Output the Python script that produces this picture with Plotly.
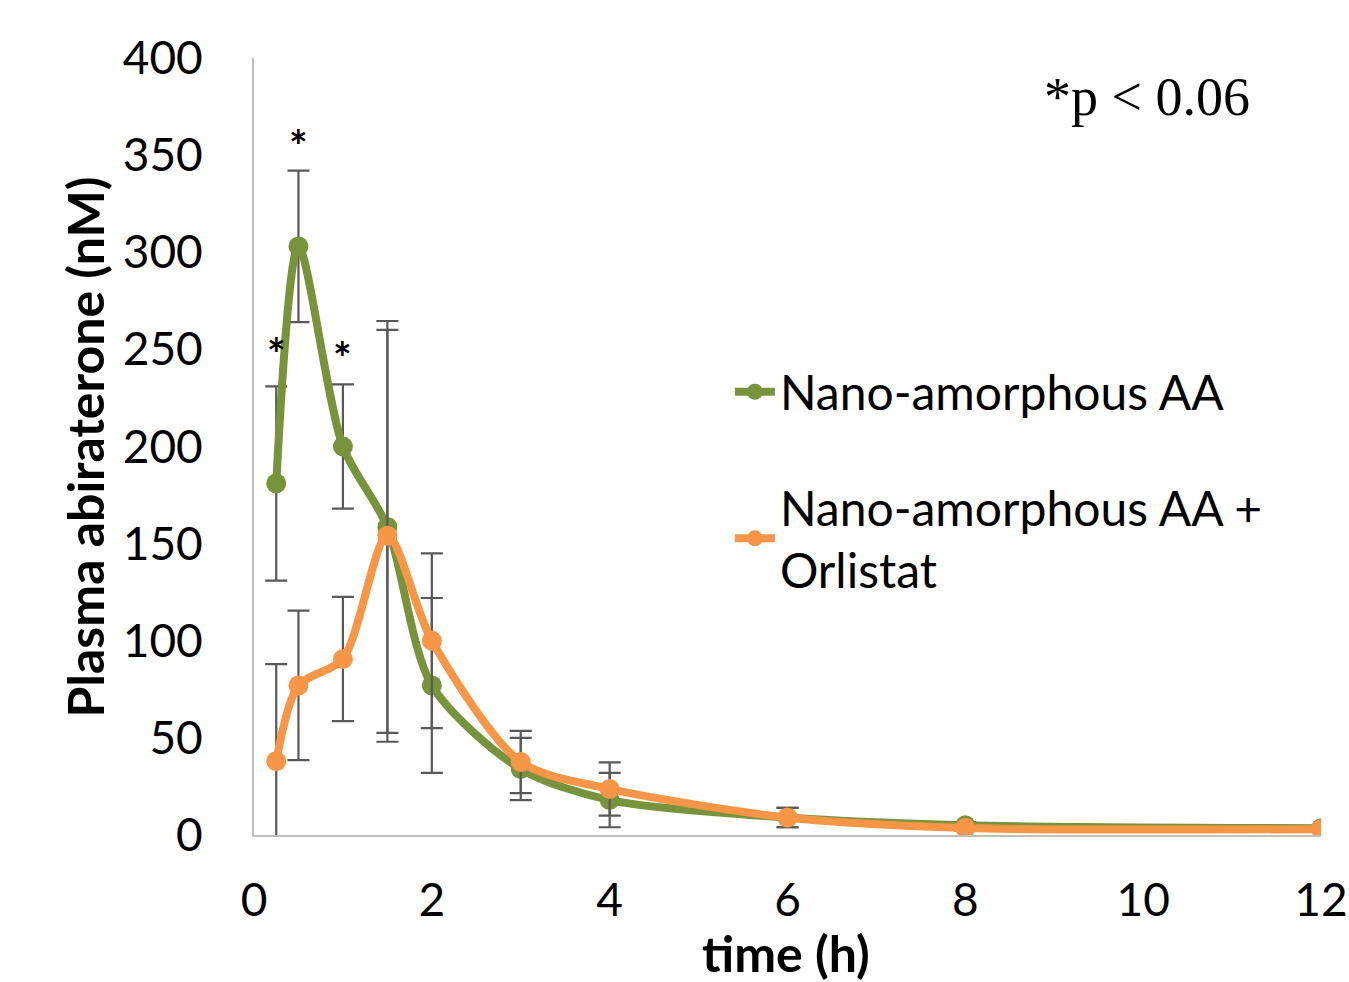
import plotly.graph_objects as go

# Sampling times (h)
time_h = [0.25, 0.5, 1, 1.5, 2, 3, 4, 6, 8, 12]

# Plasma abiraterone (nM), mean and SD
nano_mean = [181, 303, 200, 158.6, 77, 34, 18, 9, 5, 3.5]
nano_sd = [50, 39, 32, 106, 45, 16, 14, 5, 1.5, 1]

orlistat_mean = [38, 77, 90.6, 154, 100, 37.6, 23.7, 9, 3.6, 3]
orlistat_sd = [50, 38.5, 32, 106, 45, 16, 13.7, 5, 1.5, 1]

# Significance markers (time, height)
star_x = [0.25, 0.5, 1]
star_y = [248, 355, 246]

GREEN = "#77933C"
ORANGE = "#F79646"
ERR = "#595959"
FONT = "Lato"

fig = go.Figure()

fig.add_trace(go.Scatter(
    x=time_h, y=nano_mean, name="Nano-amorphous AA",
    mode="lines+markers",
    line=dict(color=GREEN, width=8, shape="spline", smoothing=0.8),
    marker=dict(color=GREEN, size=20),
    error_y=dict(type="data", array=nano_sd, visible=True,
                 color=ERR, thickness=2.2, width=11),
    legendgroup="a",
))

fig.add_trace(go.Scatter(
    x=time_h, y=orlistat_mean, name="Nano-amorphous AA +<br>Orlistat",
    mode="lines+markers",
    line=dict(color=ORANGE, width=8, shape="spline", smoothing=0.8),
    marker=dict(color=ORANGE, size=20),
    error_y=dict(type="data", array=orlistat_sd, visible=True,
                 color=ERR, thickness=2.2, width=11),
    legendgroup="b",
))

for sx, sy in zip(star_x, star_y):
    fig.add_annotation(x=sx, y=sy, text="<b>*</b>", showarrow=False,
                       font=dict(family=FONT, size=44, color="black"))

fig.add_annotation(xref="paper", yref="paper", x=0.837, y=0.95,
                   xanchor="center", yanchor="middle",
                   text="*p < 0.06", showarrow=False,
                   font=dict(family="Liberation Serif", size=54, color="black"))

# Axis titles
fig.add_annotation(xref="paper", yref="paper", x=0.499, y=-0.152,
                   xanchor="center", yanchor="middle",
                   text="<b>time (h)</b>", showarrow=False,
                   font=dict(family=FONT, size=50, color="black"))
fig.add_annotation(xref="paper", yref="paper", x=-0.158, y=0.4994,
                   xanchor="center", yanchor="middle", textangle=-90,
                   text="<b>Plasma abiraterone (nM)</b>", showarrow=False,
                   font=dict(family=FONT, size=50, color="black"))

fig.update_layout(
    width=1349, height=982,
    margin=dict(l=254, r=28, t=58, b=147),
    paper_bgcolor="white", plot_bgcolor="white",
    font=dict(family=FONT, size=46, color="black"),
    showlegend=True,
    legend=dict(x=0.446, y=0.619, xanchor="left", yanchor="top",
                font=dict(family=FONT, size=48, color="black"),
                bgcolor="rgba(0,0,0,0)", tracegroupgap=50,
                itemwidth=40),
)

fig.update_xaxes(
    range=[0, 12], tickvals=[0, 2, 4, 6, 8, 10, 12],
    showgrid=False, zeroline=False, showline=True, linecolor="#BFBFBF",
    linewidth=2, ticks="", ticklabelstandoff=24, automargin=False,
    tickfont=dict(family=FONT, size=46),
)
fig.update_yaxes(
    range=[0, 400], tickvals=[0, 50, 100, 150, 200, 250, 300, 350, 400],
    showgrid=False, zeroline=False, showline=True, linecolor="#BFBFBF",
    linewidth=2, ticks="", ticklabelstandoff=40, automargin=False,
    tickfont=dict(family=FONT, size=46),
)

fig.write_html("out.html")
